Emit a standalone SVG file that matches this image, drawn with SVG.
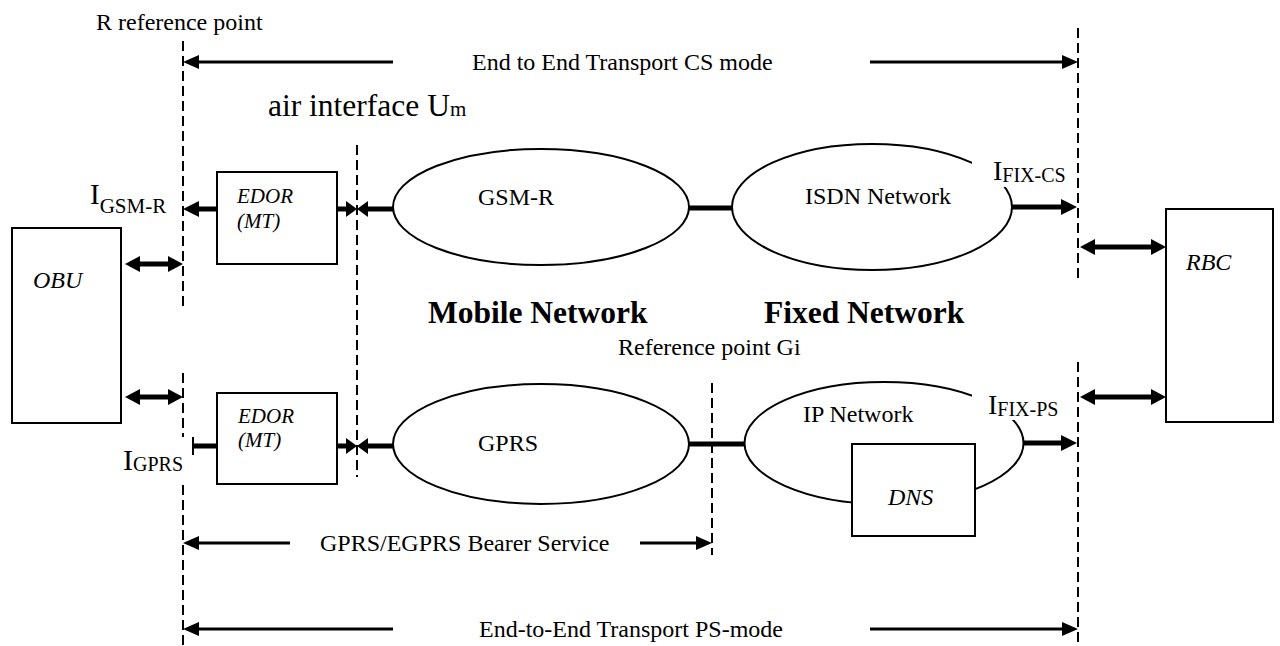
<svg xmlns="http://www.w3.org/2000/svg" width="1280" height="646" viewBox="0 0 1280 646">
<style>
text{font-family:"Liberation Serif","Times New Roman",serif;fill:#000}
.lbl{font-size:24px}
.it{font-style:italic}
.bold{font-weight:bold;font-size:31.5px}
.box{fill:#fff;stroke:#000;stroke-width:2}
.ell{fill:none;stroke:#000;stroke-width:2}
.dash{stroke:#000;stroke-width:2;stroke-dasharray:10 5;fill:none}
.thin{stroke:#000;stroke-width:3;fill:none}
.thick{stroke:#000;stroke-width:5;fill:none}
.head{fill:#000;stroke:none}
.mask{fill:#fff;stroke:none}
</style>
<rect width="1280" height="646" fill="#fff"/>

<g id="reference-lines">
<line class="dash" x1="183" y1="41" x2="183" y2="306"/>
<line class="dash" x1="183" y1="373" x2="183" y2="437"/>
<line class="dash" x1="183" y1="485" x2="183" y2="646"/>
<line class="dash" x1="1078" y1="28" x2="1078" y2="280"/>
<line class="dash" x1="1078" y1="362" x2="1078" y2="646"/>
<line class="dash" x1="357" y1="145" x2="357" y2="477"/>
<line class="dash" x1="712" y1="383" x2="712" y2="555"/>
</g>

<g id="obu"><rect class="box" x="12" y="228" width="109" height="195"/><text class="lbl it" x="33" y="288" font-size="23">OBU</text></g>
<g id="rbc"><rect class="box" x="1166" y="209" width="107" height="213"/><text class="lbl it" x="1186" y="270">RBC</text></g>
<g id="edor-top"><rect class="box" x="217" y="172" width="120" height="92"/><text class="it" x="237" y="203" font-size="21">EDOR</text><text class="it" x="237" y="228" font-size="21">(MT)</text></g>
<g id="edor-bottom"><rect class="box" x="217" y="393" width="120" height="91"/><text class="it" x="238" y="423" font-size="21">EDOR</text><text class="it" x="238" y="447" font-size="21">(MT)</text></g>
<g id="gsmr"><ellipse class="ell" cx="541" cy="207" rx="148" ry="58"/><text class="lbl" x="478" y="205">GSM-R</text></g>
<g id="isdn"><ellipse class="ell" cx="872" cy="207" rx="140" ry="63"/><text class="lbl" x="805" y="204">ISDN Network</text></g>
<g id="gprs"><ellipse class="ell" cx="541" cy="444" rx="148" ry="60"/><text class="lbl" x="478" y="451">GPRS</text></g>
<g id="ip"><ellipse class="ell" cx="884" cy="443" rx="139.5" ry="61"/><text class="lbl" x="803" y="422">IP Network</text></g>
<g id="dns"><rect class="box" x="852" y="444" width="123" height="92"/><text class="lbl it" x="888" y="505">DNS</text></g>

<g id="connectors">
<line class="thin" x1="197" y1="62" x2="393" y2="62"/><polygon class="head" points="183,62 199,55 199,69"/>
<line class="thin" x1="870" y1="62" x2="1064" y2="62"/><polygon class="head" points="1078,62 1062,55 1062,69"/>
<line class="thin" x1="197" y1="629" x2="393" y2="629"/><polygon class="head" points="183,629 199,622 199,636"/>
<line class="thin" x1="870" y1="629" x2="1064" y2="629"/><polygon class="head" points="1078,629 1062,622 1062,636"/>
<line class="thin" x1="197" y1="543" x2="290" y2="543"/><polygon class="head" points="183,543 199,536 199,550"/>
<line class="thin" x1="640" y1="543" x2="698" y2="543"/><polygon class="head" points="712,543 696,536 696,550"/>
<line class="thick" x1="136" y1="264" x2="172" y2="264"/><polygon class="head" points="125,264 140,256 140,272"/><polygon class="head" points="183,264 168,256 168,272"/>
<line class="thick" x1="136" y1="397" x2="172" y2="397"/><polygon class="head" points="125,397 140,389 140,405"/><polygon class="head" points="183,397 168,389 168,405"/>
<line class="thick" x1="1091" y1="247" x2="1155" y2="247"/><polygon class="head" points="1080,247 1095,239 1095,255"/><polygon class="head" points="1166,247 1151,239 1151,255"/>
<line class="thick" x1="1091" y1="397" x2="1155" y2="397"/><polygon class="head" points="1080,397 1095,389 1095,405"/><polygon class="head" points="1166,397 1151,389 1151,405"/>
<line class="thick" x1="196" y1="209" x2="217" y2="209"/><polygon class="head" points="183,209 199,201 199,217"/>
<line class="thick" x1="337" y1="209" x2="347" y2="209"/><polygon class="head" points="357,209 346,201 346,217"/>
<line class="thick" x1="368" y1="209" x2="393" y2="209"/><polygon class="head" points="357,209 368,201 368,217"/>
<line class="thick" x1="689" y1="208" x2="733" y2="208"/>
<line class="thick" x1="1012" y1="207" x2="1064" y2="207"/><polygon class="head" points="1077,207 1061,199 1061,215"/>
<line class="thick" x1="193" y1="446" x2="217" y2="446"/><line stroke="#000" stroke-width="2" x1="193" y1="437" x2="193" y2="455"/>
<line class="thick" x1="337" y1="446" x2="347" y2="446"/><polygon class="head" points="357,446 346,438 346,454"/>
<line class="thick" x1="368" y1="446" x2="393" y2="446"/><polygon class="head" points="357,446 368,438 368,454"/>
<line class="thick" x1="689" y1="444" x2="745" y2="444"/>
<line class="thick" x1="1024" y1="443" x2="1064" y2="443"/><polygon class="head" points="1077,443 1061,435 1061,451"/>
</g>

<g id="labels">
<text class="lbl" x="96" y="30">R reference point</text>
<text class="lbl" x="472" y="70">End to End Transport CS mode</text>
<text x="268" y="116" font-size="31.5">air interface U<tspan font-size="21">m</tspan></text>
<text x="90" y="204" font-size="29">I<tspan font-size="21" dy="9">GSM-R</tspan></text>
<rect class="mask" x="972" y="150" width="103" height="37"/>
<text x="993" y="180" font-size="28">I<tspan font-size="20" dy="2">FIX-CS</tspan></text>
<rect class="mask" x="972" y="372" width="103" height="48"/>
<text x="988" y="414" font-size="28">I<tspan font-size="20" dy="2">FIX-PS</tspan></text>
<text x="123" y="470" font-size="30">I<tspan font-size="20" dy="1">GPRS</tspan></text>
<text class="bold" x="428" y="323">Mobile Network</text>
<text class="bold" x="764" y="323">Fixed Network</text>
<text class="lbl" x="618" y="355">Reference point Gi</text>
<text class="lbl" x="320" y="551">GPRS/EGPRS Bearer Service</text>
<text class="lbl" x="479" y="637">End-to-End Transport PS-mode</text>
</g>
</svg>
